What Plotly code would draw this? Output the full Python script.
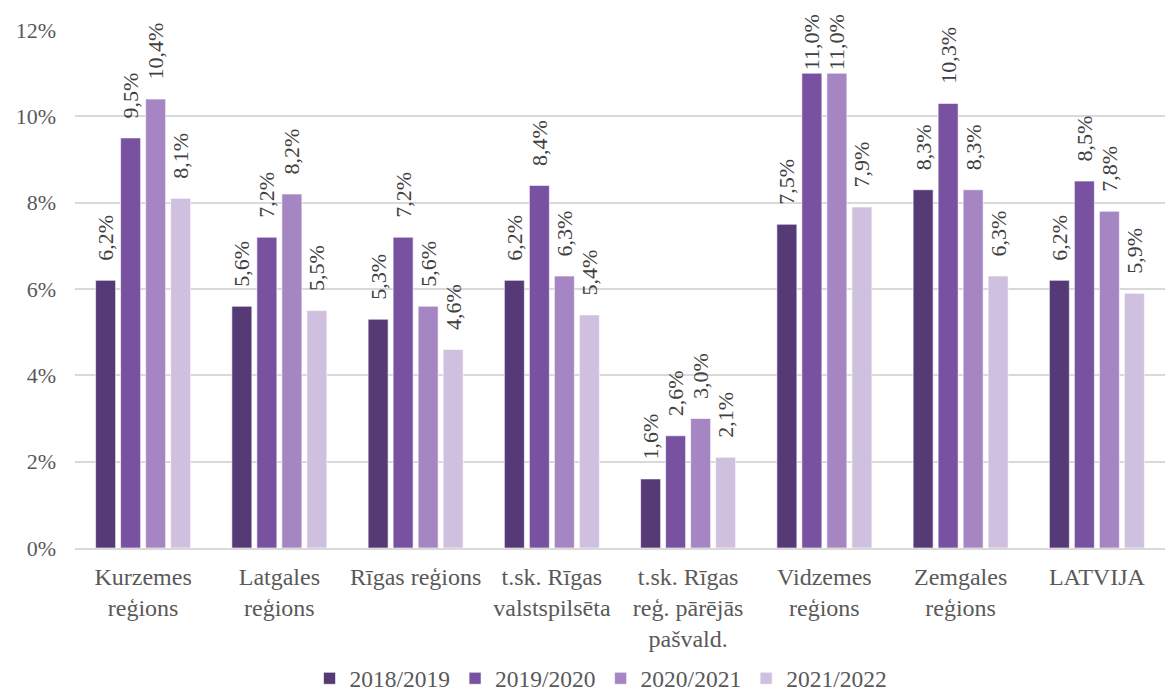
import plotly.graph_objects as go

categories = ["Kurzemes<br>reģions", "Latgales<br>reģions", "Rīgas reģions",
              "t.sk. Rīgas<br>valstspilsēta", "t.sk. Rīgas<br>reģ. pārējās<br>pašvald.",
              "Vidzemes<br>reģions", "Zemgales<br>reģions", "LATVIJA"]
series_names = ["2018/2019", "2019/2020", "2020/2021", "2021/2022"]
v2018 = [6.2, 5.6, 5.3, 6.2, 1.6, 7.5, 8.3, 6.2]
v2019 = [9.5, 7.2, 7.2, 8.4, 2.6, 11.0, 10.3, 8.5]
v2020 = [10.4, 8.2, 5.6, 6.3, 3.0, 11.0, 8.3, 7.8]
v2021 = [8.1, 5.5, 4.6, 5.4, 2.1, 7.9, 6.3, 5.9]
colors = ["#553a75", "#7851a0", "#a586c2", "#d0c0e0"]

FONT = "Times New Roman, Liberation Serif, Tinos, DejaVu Serif, serif"
PAD = "\u00a0\u00a0\u00a0"


def label(v):
    # labels that would run past the top of the chart sit tight on the bar (as in the source)
    pad = "" if v > 10.6 else PAD
    return pad + f"{v:.1f}%".replace(".", ",")


fig = go.Figure()
for name, vals, col in zip(series_names, [v2018, v2019, v2020, v2021], colors):
    fig.add_trace(go.Bar(
        x=categories, y=vals, name=name,
        marker=dict(color=col, line=dict(color="rgba(255,255,255,0.6)", width=1)),
        text=[label(v) for v in vals],
        textposition="outside", textangle=-90, constraintext="none",
        cliponaxis=False,
        textfont=dict(family=FONT, size=22, color="#404040"),
    ))

fig.update_layout(
    width=1171, height=693,
    margin=dict(l=75, r=6, t=30, b=145, autoexpand=False),
    plot_bgcolor="white", paper_bgcolor="white",
    barmode="group", bargap=0.266, bargroupgap=0.2,
    font=dict(family=FONT, size=22, color="#595959"),
    showlegend=True,
    legend=dict(orientation="h", x=0.4826, xanchor="center", y=-0.252, yanchor="middle",
                font=dict(family=FONT, size=23.5, color="#595959"), itemwidth=30),
    yaxis=dict(range=[0, 12], dtick=2, ticksuffix="%", showgrid=True,
               gridcolor="#d9d9d9", gridwidth=1.5, zeroline=False, automargin=False,
               tickfont=dict(family=FONT, size=22, color="#595959"), ticks="",
               showline=False, ticklabelstandoff=18),
    xaxis=dict(showline=True, linecolor="#d9d9d9", linewidth=1.5, ticks="", automargin=False,
               tickfont=dict(family=FONT, size=24, color="#595959"), tickangle=0,
               ticklabelstandoff=6),
)
fig.write_html("out.html", config={"displayModeBar": False},
               post_script=["document.body.style.margin='0px';"])
